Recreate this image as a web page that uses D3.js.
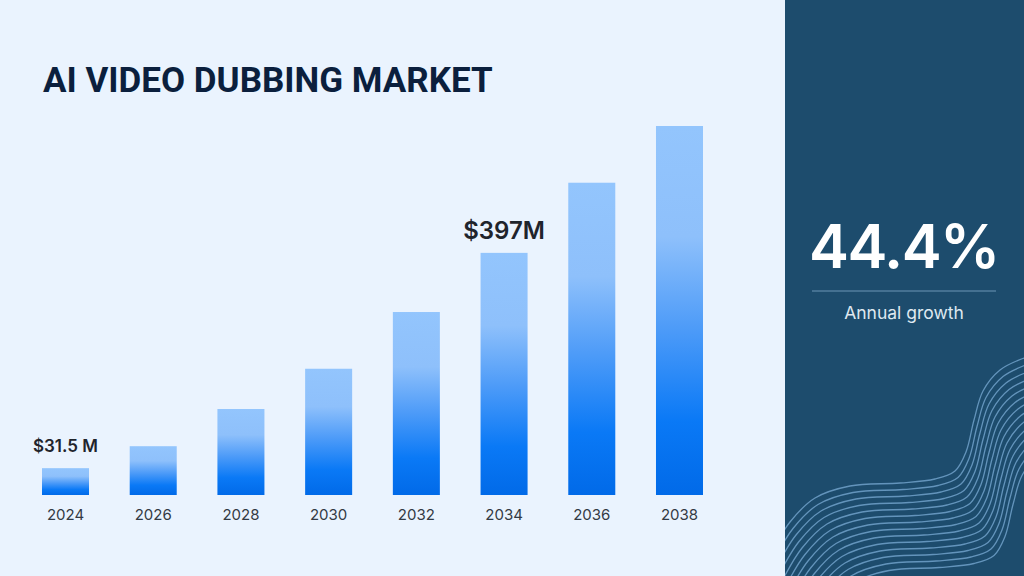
<!DOCTYPE html>
<html>
<head>
<meta charset="utf-8">
<script src="https://cdn.jsdelivr.net/npm/d3@7"></script>
<style>
  html, body { margin: 0; padding: 0; background: #eaf3fe; }
  svg { display: block; }
</style>
</head>
<body>
<svg id="chart" width="1024" height="576"></svg>
<script>
// chart data
var years = ["2024", "2026", "2028", "2030", "2032", "2034", "2036", "2038"];
var marketValues = [44, 80, 141, 207, 300, 397, 512, 605]; // $M
var callouts = [
    { year: "2024", text: "$31.5 M", size: 17 },
    { year: "2034", text: "$397M", size: 24 }
];
var growthRate = "44.4%";
var growthLabel = "Annual growth";
var title = "AI VIDEO DUBBING MARKET";

// wave decoration on the side panel (top curve, repeated with offsets)
var wavePoints = [[770, 555], [790, 522], [815, 498], [850, 486], [900, 483], [935, 479], [955, 471],
                  [966, 452], [974, 420], [983, 391], [1000, 370], [1024, 358], [1045, 352]];
var waveCount = 14;

var width = 1024, height = 576;
var panelX = 785;
var baseY = 495;

var svg = d3.select("#chart");

svg.append("rect")
    .attr("width", width)
    .attr("height", height)
    .attr("fill", "#eaf3fe");

// bar gradient
var defs = svg.append("defs");
var grad = defs.append("linearGradient")
    .attr("id", "barGrad")
    .attr("x1", 0).attr("y1", 0)
    .attr("x2", 0).attr("y2", 1);
[[0, "#93c5fd"], [0.3, "#8ec0fb"], [0.55, "#4d9bf8"], [0.8, "#0a79f6"], [1, "#016ae8"]]
    .forEach(function(s) {
        grad.append("stop").attr("offset", s[0]).attr("stop-color", s[1]);
    });

svg.append("text")
    .attr("x", 43)
    .attr("y", 92)
    .attr("font-family", "Roboto")
    .attr("font-weight", 700)
    .attr("font-size", 35)
    .attr("fill", "#0b1f3d")
    .text(title);

var x = d3.scaleBand()
    .domain(years)
    .range([42, 703])
    .paddingInner(0.464)
    .paddingOuter(0);

var y = d3.scaleLinear()
    .domain([0, 605])
    .range([baseY, 126]);

var data = years.map(function(yr, i) { return { year: yr, value: marketValues[i] }; });

svg.append("g")
    .selectAll("rect")
    .data(data)
    .enter()
    .append("rect")
    .attr("x", d => x(d.year))
    .attr("y", d => y(d.value))
    .attr("width", x.bandwidth())
    .attr("height", d => baseY - y(d.value))
    .attr("fill", "url(#barGrad)");

// year labels
var xAxis = svg.append("g")
    .attr("transform", `translate(0, ${baseY})`)
    .call(d3.axisBottom(x).tickSize(0).tickPadding(14));
xAxis.select(".domain").remove();
xAxis.selectAll("text")
    .attr("font-family", "Inter")
    .attr("font-size", 15)
    .attr("fill", "#333a44");

// value callouts above two bars
svg.append("g")
    .selectAll("text")
    .data(callouts)
    .enter()
    .append("text")
    .attr("x", d => x(d.year) + x.bandwidth() / 2)
    .attr("y", d => y(marketValues[years.indexOf(d.year)]) - (d.size > 20 ? 14 : 16))
    .attr("text-anchor", "middle")
    .attr("font-family", "Inter")
    .attr("font-weight", 600)
    .attr("font-size", d => d.size)
    .attr("fill", "#1f242c")
    .text(d => d.text);

// right side panel
var panel = svg.append("g");
panel.append("rect")
    .attr("x", panelX)
    .attr("y", 0)
    .attr("width", width - panelX)
    .attr("height", height)
    .attr("fill", "#1d4c6d");

panel.append("clipPath")
    .attr("id", "panelClip")
    .append("rect")
    .attr("x", panelX)
    .attr("y", 0)
    .attr("width", width - panelX)
    .attr("height", height);

var waveLine = d3.line().curve(d3.curveCatmullRom.alpha(0.5));
var waves = panel.append("g").attr("clip-path", "url(#panelClip)");
d3.range(waveCount).forEach(function(i) {
    var pts = wavePoints.map(function(p) { return [p[0] + i * 3, p[1] + i * 6.5]; });
    waves.append("path")
        .attr("d", waveLine(pts))
        .attr("fill", "none")
        .attr("stroke", "#6b9cc4")
        .attr("stroke-opacity", 0.9)
        .attr("stroke-width", 1.3);
});

panel.append("text")
    .attr("x", 904)
    .attr("y", 268)
    .attr("text-anchor", "middle")
    .attr("font-family", "Inter")
    .attr("font-weight", 600)
    .attr("font-size", 60)
    .attr("letter-spacing", -1.5)
    .attr("fill", "#ffffff")
    .text(growthRate);

panel.append("line")
    .attr("x1", 812).attr("x2", 996)
    .attr("y1", 291).attr("y2", 291)
    .attr("stroke", "#6d95b6")
    .attr("stroke-width", 1);

panel.append("text")
    .attr("x", 904)
    .attr("y", 319)
    .attr("text-anchor", "middle")
    .attr("font-family", "Inter")
    .attr("font-size", 17.5)
    .attr("fill", "#dfe8f0")
    .text(growthLabel);
</script>
</body>
</html>
